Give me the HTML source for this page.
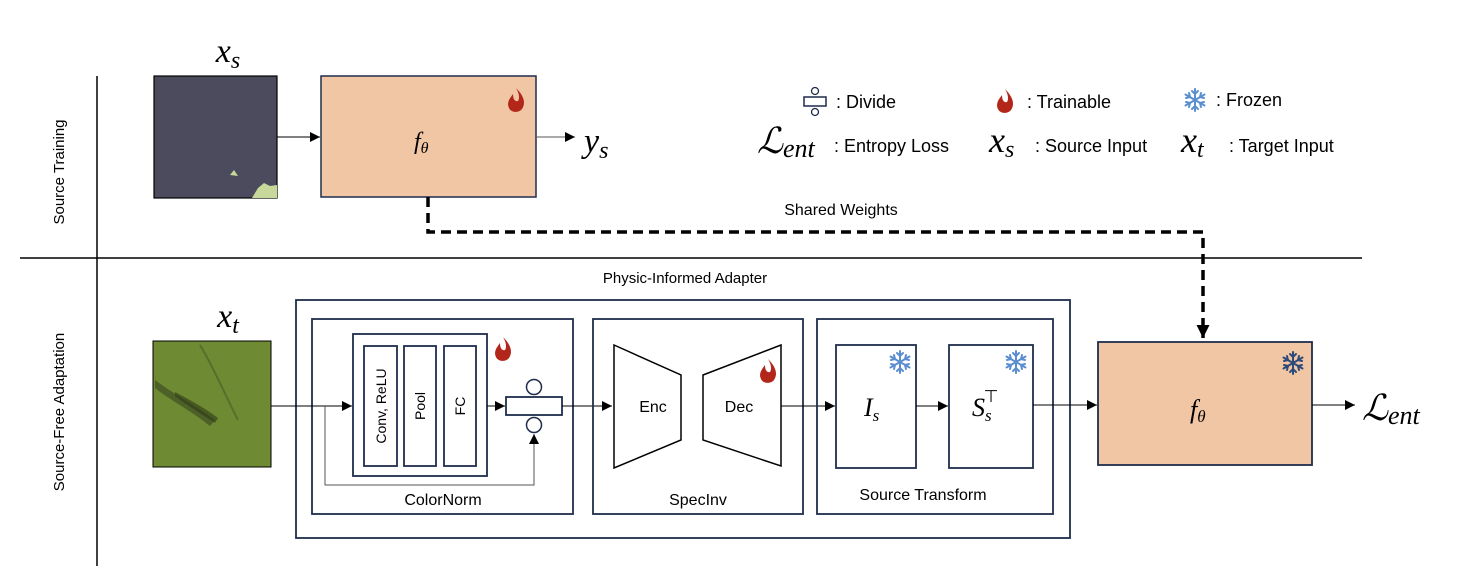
<!DOCTYPE html>
<html><head><meta charset="utf-8"><style>
html,body{margin:0;padding:0;background:#fff;}
svg{display:block;}
text{font-family:"Liberation Sans",sans-serif;fill:#000;}
text.m,.m{font-family:"Liberation Serif",serif;font-style:italic;}
</style></head><body>
<svg width="1474" height="582" viewBox="0 0 1474 582" xmlns="http://www.w3.org/2000/svg">
<defs>
<marker id="a" viewBox="0 0 10 10" refX="10" refY="5" markerWidth="10" markerHeight="10" markerUnits="userSpaceOnUse" orient="auto"><path d="M0,0L10,5L0,10z" fill="#000"/></marker>
<marker id="b" viewBox="0 0 10 10" refX="10" refY="5" markerWidth="13" markerHeight="13" markerUnits="userSpaceOnUse" orient="auto"><path d="M0,0L10,5L0,10z" fill="#000"/></marker>
<g id="flame"><path d="M0,-13 C8,-5 10,2 6,8 C3,12 -5,12 -7,7 C-10,1 -5,-4 -3,-7 C-3,-2 -1,1 2,0 C4,-3 3,-8 0,-13z" fill="#b2271a"/></g>
<g id="snow" stroke-width="2" stroke-linecap="round">
<line x1="0" y1="-11" x2="0" y2="11"/><line x1="-9.5" y1="-5.5" x2="9.5" y2="5.5"/><line x1="-9.5" y1="5.5" x2="9.5" y2="-5.5"/>
<path d="M-3,-9L0,-6L3,-9M-3,9L0,6L3,9M-9,-2L-5,-3L-6,-7M9,2L5,3L6,7M-9,2L-5,3L-6,7M9,-2L5,-3L6,-7" fill="none"/>
</g>
</defs>

<line x1="97" y1="76" x2="97" y2="566" stroke="#000" stroke-width="1.5"/>
<line x1="20" y1="258" x2="1362" y2="258" stroke="#000" stroke-width="1.5"/>
<text transform="translate(64,172) rotate(-90)" font-size="15" text-anchor="middle">Source Training</text>
<text transform="translate(64,412) rotate(-90)" font-size="15" text-anchor="middle">Source-Free Adaptation</text>

<text x="228" y="62" class="m" font-size="34" text-anchor="middle">x<tspan font-size="24" dy="6">s</tspan></text>
<rect x="154" y="76" width="123" height="122" fill="#4b4b5d" stroke="#000" stroke-width="1.2"/>
<path d="M252,198 L258,188 L264,183 L270,186 L277,185 L277,198z" fill="#c8d89a"/>
<path d="M230,175 L234,170 L238,176z" fill="#c8d89a"/>
<rect x="321" y="76" width="215" height="121" fill="#f1c6a4" stroke="#1f2d4d" stroke-width="1.5"/>
<use href="#flame" x="516" y="101"/>
<text x="414" y="149" class="m" font-size="24">f<tspan font-size="16" dy="4">θ</tspan></text>
<line x1="277" y1="137" x2="320" y2="137" stroke="#000" stroke-width="1" marker-end="url(#a)"/>
<line x1="536" y1="137" x2="575" y2="137" stroke="#555" stroke-width="1" marker-end="url(#a)"/>
<text x="584" y="152" class="m" font-size="34">y<tspan font-size="24" dy="6">s</tspan></text>

<path d="M428,197 L428,232 L1203,232 L1203,338" fill="none" stroke="#000" stroke-width="3.5" stroke-dasharray="10,6" marker-end="url(#b)"/>
<text x="841" y="215" font-size="16" text-anchor="middle">Shared Weights</text>

<rect x="804" y="97" width="22" height="9" fill="#fff" stroke="#1f2d4d" stroke-width="1.5"/>
<circle cx="815" cy="91" r="3.5" fill="#fff" stroke="#1f2d4d" stroke-width="1.3"/>
<circle cx="815" cy="112" r="3.5" fill="#fff" stroke="#1f2d4d" stroke-width="1.3"/>
<text x="836" y="108" font-size="18">: Divide</text>
<use href="#flame" x="1005" y="102"/>
<text x="1027" y="108" font-size="18">: Trainable</text>
<use href="#snow" x="1195" y="100" stroke="#5b8ed0"/>
<text x="1216" y="106" font-size="18">: Frozen</text>
<text x="757" y="153" class="m" font-size="36">ℒ<tspan font-size="26" dy="4">ent</tspan></text>
<text x="834" y="152" font-size="18">: Entropy Loss</text>
<text x="989" y="152" class="m" font-size="36">x<tspan font-size="24" dy="5">s</tspan></text>
<text x="1035" y="152" font-size="18">: Source Input</text>
<text x="1181" y="152" class="m" font-size="36">x<tspan font-size="24" dy="5">t</tspan></text>
<text x="1229" y="152" font-size="18">: Target Input</text>

<text x="685" y="283" font-size="15" text-anchor="middle">Physic-Informed Adapter</text>
<text x="228" y="327" class="m" font-size="34" text-anchor="middle">x<tspan font-size="24" dy="6">t</tspan></text>
<rect x="153" y="341" width="118" height="126" fill="#6e8a33" stroke="#000" stroke-width="1"/>
<path d="M155,380 C175,395 195,405 215,420 L210,426 C190,410 170,400 155,388z" fill="#3f4f22" opacity="0.7"/>
<path d="M175,392 C190,400 205,408 218,418 L215,423 C200,413 185,404 175,396z" fill="#2f3a18" opacity="0.6"/>
<path d="M200,345 C215,370 225,395 238,420" fill="none" stroke="#55702a" stroke-width="2"/>

<rect x="296" y="300" width="774" height="238" fill="none" stroke="#1f2d4d" stroke-width="1.8"/>
<rect x="312" y="319" width="261" height="195" fill="none" stroke="#1f2d4d" stroke-width="1.8"/>
<rect x="353" y="334" width="134" height="142" fill="none" stroke="#1f2d4d" stroke-width="1.8"/>
<rect x="364" y="346" width="33" height="120" fill="none" stroke="#1f2d4d" stroke-width="1.8"/>
<rect x="404" y="346" width="32" height="120" fill="none" stroke="#1f2d4d" stroke-width="1.8"/>
<rect x="444" y="346" width="32" height="120" fill="none" stroke="#1f2d4d" stroke-width="1.8"/>
<text transform="translate(386,406) rotate(-90)" font-size="14" text-anchor="middle">Conv, ReLU</text>
<text transform="translate(425,406) rotate(-90)" font-size="14" text-anchor="middle">Pool</text>
<text transform="translate(465,406) rotate(-90)" font-size="14" text-anchor="middle">FC</text>
<use href="#flame" x="503" y="350"/>
<line x1="271" y1="406" x2="352" y2="406" stroke="#000" stroke-width="1" marker-end="url(#a)"/>
<path d="M325,406 L325,485 L534,485 L534,434" fill="none" stroke="#555" stroke-width="1" marker-end="url(#a)"/>
<line x1="487" y1="406" x2="505" y2="406" stroke="#000" stroke-width="1" marker-end="url(#a)"/>
<rect x="506" y="397" width="56" height="18" fill="#fff" stroke="#1f2d4d" stroke-width="1.8"/>
<circle cx="534" cy="387" r="7.5" fill="#fff" stroke="#1f2d4d" stroke-width="1.5"/>
<circle cx="534" cy="425" r="7.5" fill="#fff" stroke="#1f2d4d" stroke-width="1.5"/>
<text x="443" y="505" font-size="16" text-anchor="middle">ColorNorm</text>
<line x1="562" y1="406" x2="612" y2="406" stroke="#000" stroke-width="1" marker-end="url(#a)"/>

<rect x="593" y="319" width="210" height="195" fill="none" stroke="#1f2d4d" stroke-width="1.8"/>
<path d="M614,345 L681,375 L681,440 L614,468z" fill="#fff" stroke="#000" stroke-width="1.5"/>
<path d="M703,375 L781,345 L781,466 L703,440z" fill="#fff" stroke="#000" stroke-width="1.5"/>
<text x="653" y="412" font-size="16" text-anchor="middle">Enc</text>
<text x="739" y="412" font-size="16" text-anchor="middle">Dec</text>
<use href="#flame" x="768" y="372"/>
<text x="698" y="505" font-size="16" text-anchor="middle">SpecInv</text>
<line x1="781" y1="406" x2="835" y2="406" stroke="#000" stroke-width="1" marker-end="url(#a)"/>

<rect x="817" y="319" width="236" height="195" fill="none" stroke="#1f2d4d" stroke-width="1.8"/>
<rect x="836" y="345" width="80" height="123" fill="#fff" stroke="#1f2d4d" stroke-width="1.8"/>
<rect x="949" y="345" width="84" height="123" fill="#fff" stroke="#1f2d4d" stroke-width="1.8"/>
<use href="#snow" x="900" y="362" stroke="#5b8ed0"/>
<use href="#snow" x="1016" y="362" stroke="#5b8ed0"/>
<text x="864" y="416" class="m" font-size="26">I<tspan font-size="17" dy="5">s</tspan></text>
<text x="972" y="416" class="m" font-size="26">S<tspan font-size="17" dy="5">s</tspan><tspan font-style="normal" font-size="17" dx="-8" dy="-19">⊤</tspan></text>
<line x1="916" y1="406" x2="948" y2="406" stroke="#000" stroke-width="1" marker-end="url(#a)"/>
<text x="923" y="500" font-size="16" text-anchor="middle">Source Transform</text>
<line x1="1033" y1="405" x2="1097" y2="405" stroke="#000" stroke-width="1" marker-end="url(#a)"/>

<rect x="1098" y="342" width="214" height="123" fill="#f1c6a4" stroke="#1f2d4d" stroke-width="1.8"/>
<use href="#snow" x="1293" y="363" stroke="#2e4a78"/>
<text x="1190" y="418" class="m" font-size="26">f<tspan font-size="17" dy="4">θ</tspan></text>
<line x1="1312" y1="405" x2="1355" y2="405" stroke="#000" stroke-width="1" marker-end="url(#a)"/>
<text x="1362" y="420" class="m" font-size="36">ℒ<tspan font-size="26" dy="4">ent</tspan></text>
</svg>
</body></html>
